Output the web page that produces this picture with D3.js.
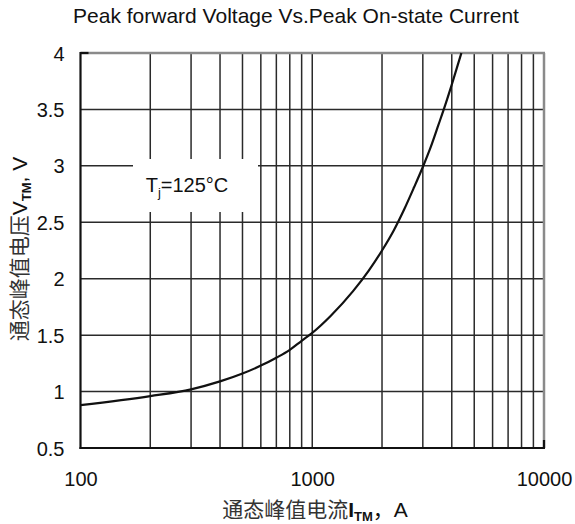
<!DOCTYPE html>
<html>
<head>
<meta charset="utf-8">
<script src="https://cdn.jsdelivr.net/npm/d3@7"></script>
<style>
html,body{margin:0;padding:0;background:#fff;}
svg{display:block;}
text{font-family:"Liberation Sans",Arial,sans-serif;fill:#111;}
.cjk{font-family:"Noto Sans CJK SC",sans-serif;}
</style>
</head>
<body>
<svg id="chart" width="575" height="524"></svg>
<script>
// Data
const current = [100, 200, 300, 400, 500, 600, 700, 800, 900, 1000, 1200, 1500, 1750, 2000, 2250, 2500, 2750, 3000, 3250, 3500, 3750, 4000, 4400];
const voltage = [0.88, 0.96, 1.02, 1.09, 1.16, 1.23, 1.30, 1.37, 1.45, 1.52, 1.67, 1.89, 2.07, 2.25, 2.43, 2.62, 2.81, 2.99, 3.17, 3.36, 3.54, 3.72, 4.0];
const xTickLabels = [100, 1000, 10000];
const yTickLabels = [0.5, 1, 1.5, 2, 2.5, 3, 3.5, 4];
const xGrid = [200,300,400,500,600,700,800,900,1000,2000,3000,4000,5000,6000,7000,8000,9000];
const titleText = "Peak forward Voltage Vs.Peak On-state Current";

const svg = d3.select("#chart");
const L = 80.5, R = 544, T = 53, B = 448;
const x = d3.scaleLog().domain([100, 10000]).range([L, R]);
const y = d3.scaleLinear().domain([0.5, 4]).range([B, T]);

// Title
svg.append("text").attr("x", 296).attr("y", 23).attr("text-anchor", "middle")
  .attr("font-size", 21).text(titleText);

// Grid
const grid = svg.append("g");
grid.selectAll("line.v").data(xGrid).join("line")
  .attr("x1", d => x(d)).attr("x2", d => x(d)).attr("y1", T).attr("y2", B)
  .attr("stroke", "#2a2a2a").attr("stroke-width", 1.5);
grid.selectAll("line.h").data(yTickLabels.slice(1, -1)).join("line")
  .attr("x1", L).attr("x2", R).attr("y1", d => y(d)).attr("y2", d => y(d))
  .attr("stroke", "#2a2a2a").attr("stroke-width", 1.5);

// Top and right borders (gray)
svg.append("line").attr("x1", L).attr("x2", R + 1).attr("y1", T).attr("y2", T)
  .attr("stroke", "#8a8a8a").attr("stroke-width", 2.5);
svg.append("line").attr("x1", R).attr("x2", R).attr("y1", T).attr("y2", B)
  .attr("stroke", "#8a8a8a").attr("stroke-width", 2.5);

// Label box (white) occluding grid
svg.append("rect").attr("x", 133).attr("y", 159).attr("width", 125).attr("height", 53).attr("fill", "#fff");
const tj = svg.append("text").attr("x", 187).attr("y", 192).attr("text-anchor", "middle").attr("font-size", 20);
tj.append("tspan").text("T");
tj.append("tspan").attr("font-size", 13).attr("dy", 5).text("j");
tj.append("tspan").attr("dy", -5).text("=125°C");

// Curve
const pts = current.map((c, i) => [c, voltage[i]]);
const line = d3.line().x(d => x(d[0])).y(d => y(d[1])).curve(d3.curveMonotoneX);
svg.append("path").datum(pts).attr("d", line).attr("fill", "none")
  .attr("stroke", "#111").attr("stroke-width", 2.2);

// Axes (left & bottom black)
const xAxis = d3.axisBottom(x).tickValues(xTickLabels).tickSize(0).tickPadding(0).tickFormat(d3.format("d"));
const gx = svg.append("g").attr("transform", `translate(0,${B})`).call(xAxis);
gx.select(".domain").remove();
gx.selectAll("text").attr("font-size", 20).attr("dy", 0).attr("y", 37.5).attr("fill", "#111")
  .attr("font-family", "Liberation Sans, Arial, sans-serif");

const yAxis = d3.axisLeft(y).tickValues(yTickLabels).tickSize(0).tickPadding(0).tickFormat(d => String(d));
const gy = svg.append("g").attr("transform", `translate(${L},0)`).call(yAxis);
gy.select(".domain").remove();
gy.selectAll("text").attr("font-size", 20).attr("x", -16).attr("dy", "0.35em").attr("fill", "#111")
  .attr("font-family", "Liberation Sans, Arial, sans-serif");

svg.append("line").attr("x1", L).attr("x2", L).attr("y1", T - 1).attr("y2", B + 1)
  .attr("stroke", "#111").attr("stroke-width", 2.2);
svg.append("line").attr("x1", L - 1).attr("x2", R + 1).attr("y1", B).attr("y2", B)
  .attr("stroke", "#111").attr("stroke-width", 2.2);
// corner ticks
svg.append("line").attr("x1", L).attr("x2", L + 8).attr("y1", T).attr("y2", T).attr("stroke", "#111").attr("stroke-width", 2.2);
svg.append("line").attr("x1", R).attr("x2", R).attr("y1", B).attr("y2", B - 8).attr("stroke", "#111").attr("stroke-width", 2.2);

// X axis title
const xt = svg.append("text").attr("x", 315).attr("y", 517).attr("text-anchor", "middle").attr("font-size", 21);
xt.append("tspan").attr("class", "cjk").attr("fill", "#333").text("通态峰值电流");
xt.append("tspan").attr("font-weight", "bold").text("I");
xt.append("tspan").attr("font-size", 13).attr("font-weight", "bold").attr("dy", 4).text("TM");
xt.append("tspan").attr("class", "cjk").attr("dy", -4).text("，");
xt.append("tspan").text("A");

// Y axis title
const yt = svg.append("text").attr("transform", "translate(27,249) rotate(-90)").attr("text-anchor", "middle").attr("font-size", 21);
yt.append("tspan").attr("class", "cjk").attr("fill", "#333").text("通态峰值电压");
yt.append("tspan").text("V");
yt.append("tspan").attr("font-size", 13).attr("font-weight", "bold").attr("dy", 4).text("TM");
yt.append("tspan").attr("dy", -4).text(", V");
</script>
</body>
</html>
